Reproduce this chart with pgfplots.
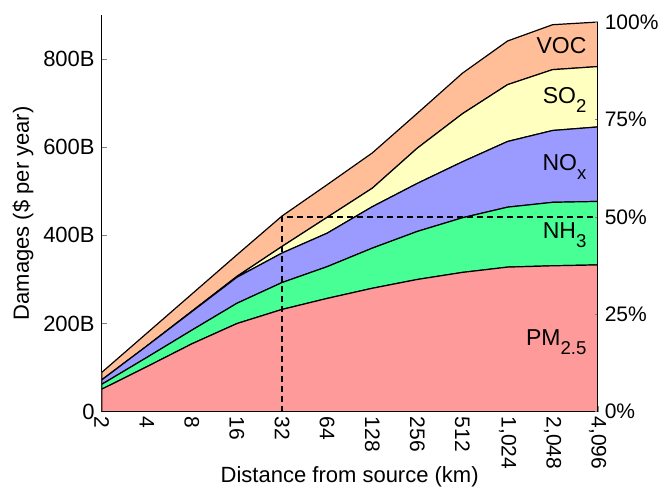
\documentclass[border=0pt]{standalone}
\usepackage{fontspec}
\setmainfont{Liberation Sans}
\usepackage{pgfplots}
\pgfplotsset{compat=1.18}

\definecolor{cPM}{RGB}{255,154,154}
\definecolor{cNH}{RGB}{72,255,150}
\definecolor{cNO}{RGB}{154,154,255}
\definecolor{cSO}{RGB}{255,255,191}
\definecolor{cVOC}{RGB}{255,190,152}

\newcommand{\arealab}{\fontsize{11.5}{13}\selectfont}
\newcommand{\lowsub}[1]{\raisebox{-4.6pt}{\fontsize{9.3}{10}\selectfont #1}}

\begin{document}
\begin{tikzpicture}
\useasboundingbox (0,0) rectangle (332.5pt,243.5pt);
\begin{axis}[
    at={(50.85pt,37.65pt)}, anchor=south west,
    scale only axis, width=248pt, height=198.35pt,
    xmode=log, log basis x=2,
    xmin=2, xmax=4096, ymin=0, ymax=900,
    axis x line=bottom, axis y line=left,
    axis line style={-, line width=0.6pt},
    tick align=inside,
    major tick length=2.8pt,
    xtick={2,4,8,16,32,64,128,256,512,1024,2048,4096},
    xticklabels={2,4,8,16,32,64,128,256,512,{1,024},{2,048},{4,096}},
    xticklabel style={rotate=-90, anchor=west, xshift=-1pt},
    ytick={0,200,400,600,800},
    yticklabels={0,200B,400B,600B,800B},
    every tick label/.append style={font=\fontsize{10.5}{12}\selectfont},
    yticklabel style={font=\fontsize{11}{12}\selectfont},
    label style={font=\fontsize{11}{12}\selectfont},
    xlabel={Distance from source (km)},
    xlabel style={at={(rel axis cs:0.5,0)}, anchor=base, yshift=-35.6pt},
    ylabel={Damages (\$ per year)},
    ylabel style={yshift=-2pt},
    stack plots=y,
    every axis plot/.append style={draw=black, line width=0.6pt},
  ]
  % PM2.5
  \addplot[fill=cPM] coordinates {
    (2,51) (4,102) (8,154) (16,200) (32,232) (64,257) (128,280)
    (256,300) (512,316) (1024,328) (2048,331) (4096,333)} \closedcycle;
  % NH3
  \addplot[fill=cNH] coordinates {
    (2,11) (4,21) (8,31) (16,46) (32,61) (64,72) (128,91)
    (256,109) (512,124) (1024,136) (2048,144) (4096,144)} \closedcycle;
  % NOx
  \addplot[fill=cNO] coordinates {
    (2,10) (4,26) (8,42) (16,59) (32,67) (64,76) (128,94)
    (256,109) (512,127) (1024,149) (2048,163) (4096,169)} \closedcycle;
  % SO2
  \addplot[fill=cSO] coordinates {
    (2,0) (4,0) (8,1) (16,2) (32,15) (64,36) (128,42)
    (256,80) (512,109) (1024,129) (2048,138) (4096,137)} \closedcycle;
  % VOC
  \addplot[fill=cVOC] coordinates {
    (2,17) (4,29) (8,39) (16,49) (32,69) (64,74) (128,80)
    (256,79) (512,92) (1024,99) (2048,102) (4096,101)} \closedcycle;
\end{axis}
\begin{axis}[
    at={(50.85pt,37.65pt)}, anchor=south west,
    scale only axis, width=248pt, height=194.85pt,
    xmode=log, log basis x=2,
    xmin=2, xmax=4096, ymin=0, ymax=100,
    hide x axis,
    axis y line*=right,
    axis line style={-, line width=0.6pt},
    tick align=inside,
    major tick length=1.5pt,
    ytick={0,25,50,75,100},
    yticklabels={0\%,25\%,50\%,75\%,100\%},
    every tick label/.append style={font=\fontsize{10.5}{12}\selectfont},
    clip=false,
  ]
  \addplot[black, line width=0.9pt, dash pattern=on 3pt off 2pt]
    coordinates {(32,0) (32,50) (4096,50)};
  \node[anchor=base east, inner sep=0pt] at (rel axis cs:0.978,0.9197) {\arealab VOC};
  \node[anchor=base east, inner sep=0pt] at (rel axis cs:0.978,0.7921) {\arealab SO\lowsub{2}};
  \node[anchor=base east, inner sep=0pt] at (rel axis cs:0.978,0.6202) {\arealab NO\lowsub{x}};
  \node[anchor=base east, inner sep=0pt] at (rel axis cs:0.978,0.4457) {\arealab NH\lowsub{3}};
  \node[anchor=base east, inner sep=0pt] at (rel axis cs:0.978,0.1711) {\arealab PM\lowsub{2.5}};
\end{axis}
\end{tikzpicture}
\end{document}
